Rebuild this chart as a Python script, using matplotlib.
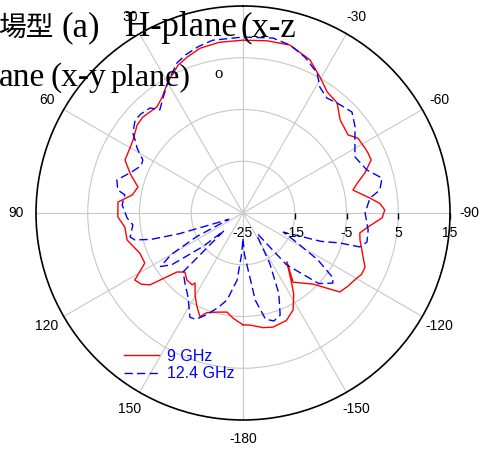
import numpy as np
import matplotlib
matplotlib.use("Agg")
import matplotlib.pyplot as plt
from matplotlib.markers import TICKDOWN
from matplotlib.transforms import ScaledTranslation

W, H = 482, 450

# measured gain patterns (deg, dB), traced in path order
ang_9 = [-180, -176.4, -170, -165.3, -158, -152.7, -148, -144.5, -138.1, -144.1,
         -135.4, -129.2, -125, -120, -117.4, -113.9, -110.1, -106, -103, -99.7,
         -96.4, -92, -88.8, -86, -83.3, -78.2, -75, -71.8, -67.5, -64.4,
         -62, -56.9, -53.4, -46.2, -40.5, -34.8, -29.5, -23.6, -15.6, -8,
         0, 8, 14.6, 19.7, 23.7, 29.8, 34.9, 39, 46.2, 50.3,
         56.4, 60, 65.8, 71, 76.1, 80.8, 85, 91.8, 96.8, 103.1,
         111.2, 117, 121.8, 125, 127.7, 131.8, 135.5, 140.1, 144.7, 145.6,
         150, 153.9, 157.5, 160, 165.3, 170.8, 175, 180]
gain_9 = [-3.4, -3.3, -2.5, -2.2, -2.6, -3.9, -6.5, -9.0, -12.3, -8.5,
          -5.7, -0.85, -0.3, 0.3, 0.8, 0.8, -0.3, -1.2, -1.8, -2.1,
          -0.7, 1.9, 2.4, 1.5, -0.3, -3.3, -2.0, -0.2, 1.8, 1.8,
          1.7, 1.5, 0.3, 1.0, 3.0, 3.5, 5.2, 7.3, 8.7, 8.6,
          8.4, 8.3, 7.9, 7.0, 6.2, 4.2, 2.3, 1.4, 1.8, 1.6,
          0.5, 0.2, 0.0, -2.0, -4.1, -3.3, -0.75, -0.8, -2.0, -2.0,
          -3.6, -3.7, -0.4, -1.0, -2.3, -7.9, -9.0, -8.1, -8.0, -8.6,
          -6.5, -4.8, -3.3, -4.5, -5.2, -5.6, -4.5, -3.4]

ang_124 = [-180, -178, -172, -168, -164, -160, -156, -152, -148, -145,
           -140, -133, -128, -125.8, -122, -118, -115.4, -110, -107.2, -106.2,
           -103.2, -97.7, -90, -83.3, -80.5, -75.9, -70.9, -63.4, -56.9, -52.5,
           -47.2, -41.9, -36.1, -31.4, -27.9, -21.7, -15.6, -9.7, 0, 10,
           15, 20, 23.7, 29.8, 35, 38.9, 41.5, 46, 49.3, 54,
           55.9, 58.5, 62.1, 65, 69.7, 75.3, 79.6, 81.3, 86.2, 92.5,
           96.2, 102, 104, 106, 108, 111, 114, 117, 120, 123,
           126, 130, 133, 134.5, 140, 146.8, 153, 156, 160, 165,
           169.6, 175, 178, 180]
gain_124 = [-20, -17, -8, -4, -3.3, -4, -8, -14, -20, -20,
            -12, -5, -3, -3.5, -8, -14, -16.4, -9, -5.4, -1.5,
            -0.4, -0.6, -1.4, -0.3, 1.8, 2.7, 0.35, -0.8, 0.8, 2.3,
            3.7, 3.1, 2.5, 3.5, 5.6, 7.4, 8.7, 9.3, 9.0, 8.9,
            8.3, 7.5, 6.7, 4.2, 2.0, 0.6, 2.1, 2.5, 2.5, 1.3,
            0.2, -1.0, -3.1, -3.3, -2.1, 0.2, -0.4, -1.9, -1.6, -2.6,
            -3.6, -2.7, -3.5, -6.5, -12, -20, -22, -15, -9, -6,
            -8, -15, -20, -8.8, -7.5, -5.6, -2.4, -2.5, -4, -6,
            -7.9, -12, -17, -20]

theta_ticks = [0, 30, 60, 90, 120, 150, 180, 210, 240, 270, 300, 330]
theta_labels = ["0", "30", "60", "90", "120", "150", "-180",
                "-150", "-120", "-90", "-60", "-30"]
r_ticks = [-25, -15, -5, 5, 15]
r_labels = ["-25", "-15", "-5", "5", "15"]

plt.rcParams["font.family"] = ["Liberation Sans", "DejaVu Sans"]

fig = plt.figure(figsize=(W / 100, H / 100), dpi=100)
cx, cy, rad = 243, 213, 207
ax = fig.add_axes([(cx - rad) / W, (H - cy - rad) / H, 2 * rad / W, 2 * rad / H],
                  projection="polar")
ax.set_theta_zero_location("N")
ax.set_theta_direction(1)
ax.set_ylim(-25, 15)

ax.plot(np.deg2rad(ang_9), gain_9, color="#ff0000", lw=1.0, label="9 GHz")
ax.plot(np.deg2rad(ang_124), gain_124, color="#0000ff", lw=1.0,
        dashes=(6, 3), label="12.4 GHz")

ax.set_thetagrids(theta_ticks, theta_labels, fontsize=10)
ax.set_rgrids(r_ticks[1:-1], labels=[])
ax.grid(True, color="#c8c8c8", lw=0.8)
ax.spines["polar"].set_color("black")
ax.spines["polar"].set_linewidth(1.2)
ax.tick_params(axis="x", direction="out", length=3, width=0.8, pad=4, colors="black")

# radial scale written under the -90 spoke
off = ScaledTranslation(0, -13 / 100, fig.dpi_scale_trans)
for v, s in zip(r_ticks, r_labels):
    ax.text(np.deg2rad(-90), v, s, ha="center", va="top", fontsize=10,
            transform=ax.transData + off)
ax.plot(np.deg2rad([-90] * 4), r_ticks[1:], ls="none", marker=TICKDOWN,
        ms=4, mew=1.0, color="black", clip_on=False)

leg = ax.legend(loc="upper left", bbox_to_anchor=(124 / W, 1 - 349 / H),
                bbox_transform=fig.transFigure, frameon=False, fontsize=11.5,
                handlelength=2.2, handletextpad=0.5, labelspacing=0.15,
                borderpad=0, borderaxespad=0, labelcolor="#0000ff")

# caption text from the page running over the plot
latin = dict(fontsize=25, color="black", va="baseline", ha="left",
             family=["Liberation Serif", "Noto Sans CJK TC"])
fig.text(-2 / W, 1 - 36 / H, "場型", **dict(latin, fontsize=20))
for x, y, s, fs in [(62, 36, "(a)", 25), (125, 36, "H-plane", 25),
                    (240, 36, "(x-z", 25), (-1, 86, "ane", 24),
                    (50, 86, "(x-y", 24), (110, 86, "plane)", 23)]:
    fig.text(x / W, 1 - y / H, s, **dict(latin, fontsize=fs))
fig.text(219 / W, 1 - 74 / H, "o", fontsize=12, ha="center", va="center",
         family="Liberation Serif")

fig.savefig("out.png", dpi=100)
